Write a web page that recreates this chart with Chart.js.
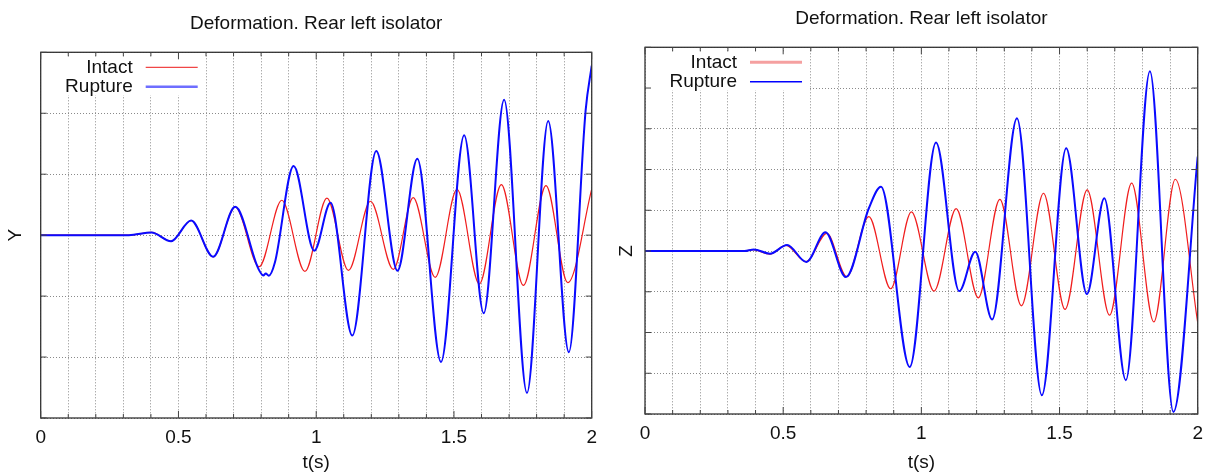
<html>
   <head>
      <script src="https://cdn.jsdelivr.net/npm/chart.js@4.4.1/dist/chart.umd.min.js"></script>
   </head>
   <style>
      html,
      body {
         height: 100%;
         margin: 0;
         background: #fff;
      }

      .panel {
         position: absolute;
         top: 0;
         height: 474px;
      }

      #left {
         left: 0;
         width: 605px;
      }

      #right {
         left: 605px;
         width: 606px;
      }
   </style>

   <body>
      <div class="panel" id="left"><canvas id="chartY"></canvas></div>
      <div class="panel" id="right"><canvas id="chartZ"></canvas></div>
   </body>
   <script>
      // lateral deformation (Y), turning points of each run
      const yIntactT = [0, 0.32, 0.402, 0.473, 0.546, 0.626, 0.706, 0.793, 0.875, 0.959, 1.039, 1.117, 1.197, 1.28, 1.352, 1.432, 1.511, 1.592, 1.672, 1.752, 1.834, 1.913, 2.0];
      const yIntact = [0, 0, 0.044, -0.1, 0.24, -0.355, 0.464, -0.518, 0.573, -0.595, 0.606, -0.578, 0.556, -0.562, 0.616, -0.693, 0.753, -0.802, 0.829, -0.824, 0.813, -0.78, 0.753];
      const yRuptureT = [0, 0.32, 0.402, 0.473, 0.546, 0.626, 0.706, 0.79, 0.808, 0.817, 0.828, 0.85, 0.918, 0.993, 1.052, 1.131, 1.218, 1.295, 1.367, 1.453, 1.537, 1.608, 1.682, 1.765, 1.842, 1.917, 1.978, 2.0];
      const yRupture = [0, 0, 0.044, -0.1, 0.24, -0.355, 0.464, -0.55, -0.66, -0.63, -0.665, -0.45, 1.135, -0.256, 0.53, -1.647, 1.38, -0.584, 1.255, -2.08, 1.637, -1.282, 2.22, -2.59, 1.871, -1.92, 2.05, 2.78];

      // vertical deformation (Z)
      const zIntactT = [0, 0.36, 0.39, 0.452, 0.51, 0.583, 0.658, 0.73, 0.81, 0.889, 0.964, 1.046, 1.126, 1.206, 1.284, 1.362, 1.442, 1.52, 1.6, 1.681, 1.761, 1.841, 1.919, 2.0];
      const zIntact = [0, 0, 0.035, -0.074, 0.14, -0.262, 0.434, -0.63, 0.844, -0.926, 0.959, -0.984, 1.041, -1.148, 1.27, -1.344, 1.418, -1.434, 1.5, -1.574, 1.664, -1.738, 1.762, -1.76];
      const zRuptureT = [0, 0.36, 0.394, 0.452, 0.514, 0.584, 0.653, 0.727, 0.81, 0.854, 0.958, 1.053, 1.137, 1.195, 1.256, 1.346, 1.436, 1.524, 1.599, 1.662, 1.74, 1.827, 1.912, 2.0];
      const zRupture = [0, 0, 0.04, -0.066, 0.148, -0.27, 0.46, -0.64, 1.05, 1.58, -2.844, 2.664, -0.984, -0.016, -1.68, 3.26, -3.54, 2.52, -1.057, 1.295, -3.17, 4.41, -3.95, 2.32];

      const xTickLabels = [0, 0.5, 1, 1.5, 2];
      const seriesNames = ["Intact", "Rupture"];
      const chartTitle = "Deformation. Rear left isolator";

      const FONT = { family: "'Liberation Sans', Arial, sans-serif", size: 19 };
      const FONT_CSS = "19px 'Liberation Sans', Arial, sans-serif";
      const RED = "rgb(240, 30, 30)";
      const BLUE = "rgb(10, 10, 255)";
      const GRID = "#8a8a8a";

      function pairs(t, v) {
         return t.map((x, i) => ({ x: x, y: v[i] }));
      }

      function isLabelled(v) {
         return xTickLabels.some((l) => Math.abs(l - v) < 1e-6);
      }

      // box, inward tick marks, title, axis name and the legend inside the plot
      const framePlugin = {
         id: "frame",
         afterDraw(chart, args, opts) {
            const { ctx, chartArea: a, scales } = chart;
            ctx.save();

            // legend background hides the grid behind it
            ctx.fillStyle = "#fff";
            ctx.fillRect(a.left + 1, a.top + opts.boxTop, 164, 38);

            ctx.strokeStyle = "#333";
            ctx.lineWidth = 1.3;
            ctx.strokeRect(a.left, a.top, a.right - a.left, a.bottom - a.top);

            ctx.lineWidth = 1;
            ctx.strokeStyle = "#444";
            ctx.beginPath();
            scales.x.ticks.forEach((t) => {
               const px = scales.x.getPixelForValue(t.value);
               const len = isLabelled(t.value) ? 7 : 4;
               ctx.moveTo(px, a.bottom);
               ctx.lineTo(px, a.bottom - len);
               ctx.moveTo(px, a.top);
               ctx.lineTo(px, a.top + len);
            });
            scales.y.ticks.forEach((t) => {
               const py = scales.y.getPixelForValue(t.value);
               ctx.moveTo(a.left, py);
               ctx.lineTo(a.left + 6, py);
               ctx.moveTo(a.right, py);
               ctx.lineTo(a.right - 6, py);
            });
            ctx.stroke();

            ctx.fillStyle = "#111";
            ctx.font = FONT_CSS;
            ctx.textAlign = "center";
            ctx.textBaseline = "middle";
            ctx.fillText(chartTitle, (a.left + a.right) / 2, a.top - opts.titleGap);

            ctx.save();
            ctx.translate(a.left - opts.nameGap, scales.y.getPixelForValue(0));
            ctx.rotate(-Math.PI / 2);
            ctx.fillText(opts.axisName, 0, 0);
            ctx.restore();

            ctx.textAlign = "right";
            seriesNames.forEach((name, i) => {
               const y = a.top + 15 + i * 19.5;
               ctx.fillStyle = "#111";
               ctx.fillText(name, a.left + 92, y);
               ctx.strokeStyle = opts.sampleColors[i];
               ctx.lineWidth = opts.sampleWidths[i];
               ctx.beginPath();
               ctx.moveTo(a.left + 105, y);
               ctx.lineTo(a.left + 157, y);
               ctx.stroke();
            });

            ctx.restore();
         },
      };

      function makeChart(id, s) {
         return new Chart(document.getElementById(id), {
            type: "line",
            data: {
               datasets: [
                  { label: seriesNames[0], data: pairs(s.intactT, s.intact), borderColor: RED, borderWidth: 1.2, order: 1 },
                  { label: seriesNames[1], data: pairs(s.ruptureT, s.rupture), borderColor: BLUE, borderWidth: 2, order: 0 },
               ],
            },
            options: {
               responsive: true,
               maintainAspectRatio: false,
               animation: false,
               layout: { padding: { top: s.top, right: s.right, bottom: 0, left: 0 } },
               elements: {
                  point: { radius: 0 },
                  line: { cubicInterpolationMode: "monotone", fill: false },
               },
               plugins: {
                  legend: { display: false },
                  tooltip: { enabled: false },
                  frame: s.frame,
               },
               scales: {
                  x: {
                     type: "linear",
                     min: 0,
                     max: 2,
                     ticks: {
                        stepSize: 0.1,
                        autoSkip: false,
                        maxRotation: 0,
                        padding: s.tickPad,
                        font: FONT,
                        color: "#111",
                        callback: (v) => (isLabelled(v) ? String(Math.round(v * 10) / 10) : ""),
                     },
                     grid: { color: GRID, drawTicks: false },
                     border: { display: false, dash: [1, 2] },
                     title: { display: true, text: "t(s)", font: FONT, color: "#111", padding: 0 },
                     afterFit: (sc) => {
                        sc.height = s.xHeight;
                     },
                  },
                  y: {
                     min: s.yMin,
                     max: s.yMax,
                     ticks: { stepSize: 1, display: false },
                     grid: { color: GRID, drawTicks: false },
                     border: { display: false, dash: [1, 2] },
                     afterFit: (sc) => {
                        sc.width = s.yWidth;
                     },
                  },
               },
            },
            plugins: [framePlugin],
         });
      }

      makeChart("chartY", {
         intactT: yIntactT,
         intact: yIntact,
         ruptureT: yRuptureT,
         rupture: yRupture,
         yMin: -3,
         yMax: 3,
         top: 52.3,
         right: 11.3,
         xHeight: 56,
         yWidth: 40.7,
         tickPad: 8,
         frame: {
            axisName: "Y",
            titleGap: 29,
            nameGap: 25,
            boxTop: 5,
            sampleColors: ["rgb(240, 70, 70)", "rgb(110, 110, 255)"],
            sampleWidths: [1.3, 2.5],
         },
      });

      makeChart("chartZ", {
         intactT: zIntactT,
         intact: zIntact,
         ruptureT: zRuptureT,
         rupture: zRupture,
         yMin: -4,
         yMax: 5,
         top: 47.3,
         right: 8.7,
         xHeight: 60,
         yWidth: 40,
         tickPad: 8,
         frame: {
            axisName: "Z",
            titleGap: 28.6,
            nameGap: 18,
            boxTop: 5,
            sampleColors: ["rgb(245, 160, 160)", "rgb(0, 0, 255)"],
            sampleWidths: [3, 1.5],
         },
      });
   </script>
</html>
